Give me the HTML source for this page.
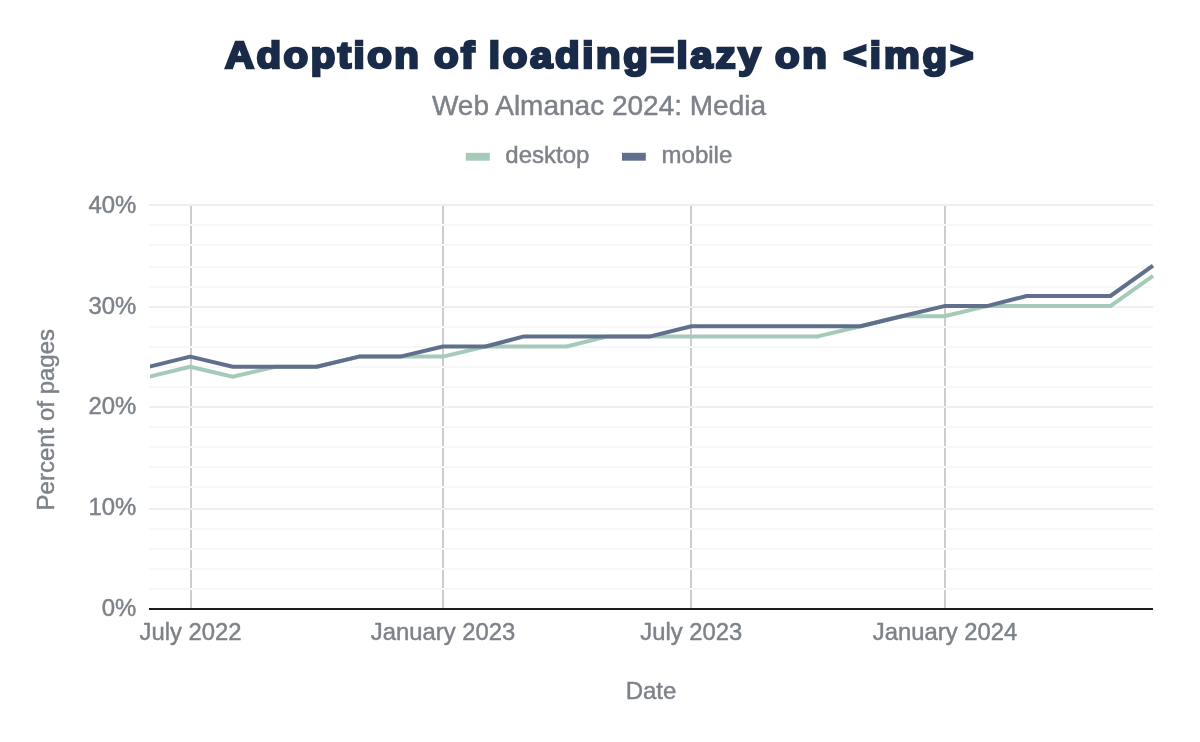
<!DOCTYPE html>
<html lang="en">
<head>
<meta charset="utf-8">
<title>Adoption of loading=lazy on &lt;img&gt;</title>
<style>
html,body{margin:0;padding:0;background:#fff;}
body{width:1200px;height:742px;overflow:hidden;}
svg{display:block;}
.lbl{font-family:"Liberation Sans",Arial,Helvetica,sans-serif;font-size:24px;fill:#7d8289;stroke:#7d8289;stroke-width:0.45px;}
.sub{font-family:"Liberation Sans",Arial,Helvetica,sans-serif;font-size:28px;fill:#7d8289;stroke:#7d8289;stroke-width:0.45px;}
.ttl{font-family:"Liberation Sans",Arial,Helvetica,sans-serif;font-weight:bold;font-size:37px;fill:#1a2b49;stroke:#1a2b49;stroke-width:2.6px;stroke-linejoin:miter;}
</style>
</head>
<body>
<svg width="1200" height="742" viewBox="0 0 1200 742">
<rect x="0" y="0" width="1200" height="742" fill="#ffffff"/>

<g stroke="#cccccc" stroke-width="2">
<line x1="191" y1="205" x2="191" y2="609"/>
<line x1="443" y1="205" x2="443" y2="609"/>
<line x1="691" y1="205" x2="691" y2="609"/>
<line x1="945" y1="205" x2="945" y2="609"/>
</g>
<g stroke-width="2">
<line x1="149" y1="589" x2="1153" y2="589" stroke="#f7f7f7"/>
<line x1="149" y1="569" x2="1153" y2="569" stroke="#f7f7f7"/>
<line x1="149" y1="549" x2="1153" y2="549" stroke="#f7f7f7"/>
<line x1="149" y1="529" x2="1153" y2="529" stroke="#f7f7f7"/>
<line x1="149" y1="509" x2="1153" y2="509" stroke="#efefef"/>
<line x1="149" y1="487" x2="1153" y2="487" stroke="#f7f7f7"/>
<line x1="149" y1="467" x2="1153" y2="467" stroke="#f7f7f7"/>
<line x1="149" y1="447" x2="1153" y2="447" stroke="#f7f7f7"/>
<line x1="149" y1="427" x2="1153" y2="427" stroke="#f7f7f7"/>
<line x1="149" y1="407" x2="1153" y2="407" stroke="#efefef"/>
<line x1="149" y1="387" x2="1153" y2="387" stroke="#f7f7f7"/>
<line x1="149" y1="367" x2="1153" y2="367" stroke="#f7f7f7"/>
<line x1="149" y1="347" x2="1153" y2="347" stroke="#f7f7f7"/>
<line x1="149" y1="327" x2="1153" y2="327" stroke="#f7f7f7"/>
<line x1="149" y1="307" x2="1153" y2="307" stroke="#efefef"/>
<line x1="149" y1="287" x2="1153" y2="287" stroke="#f7f7f7"/>
<line x1="149" y1="267" x2="1153" y2="267" stroke="#f7f7f7"/>
<line x1="149" y1="245" x2="1153" y2="245" stroke="#f7f7f7"/>
<line x1="149" y1="225" x2="1153" y2="225" stroke="#f7f7f7"/>
<line x1="149" y1="205" x2="1153" y2="205" stroke="#efefef"/>
</g>
<line x1="149" y1="609" x2="1153" y2="609" stroke="#1c1c1c" stroke-width="2"/>
<clipPath id="plotclip"><rect x="150" y="190" width="1020" height="430"/></clipPath>
<g clip-path="url(#plotclip)">
<path d="M149.0 376.8 L190.2 366.7 L232.8 376.8 L275.4 366.7 L316.6 366.7 L359.1 356.6 L400.3 356.6 L442.9 356.6 L485.5 346.5 L524.0 346.5 L566.5 346.5 L607.7 336.4 L650.3 336.4 L691.5 336.4 L734.1 336.4 L776.7 336.4 L817.9 336.4 L860.5 326.3 L901.7 316.2 L944.2 316.2 L986.8 306.1 L1026.6 306.1 L1069.2 306.1 L1110.4 306.1 L1153.0 275.8" fill="none" stroke="#a5cab9" stroke-width="4" stroke-linejoin="round"/>
<path d="M149.0 366.7 L190.2 356.6 L232.8 366.7 L275.4 366.7 L316.6 366.7 L359.1 356.6 L400.3 356.6 L442.9 346.5 L485.5 346.5 L524.0 336.4 L566.5 336.4 L607.7 336.4 L650.3 336.4 L691.5 326.3 L734.1 326.3 L776.7 326.3 L817.9 326.3 L860.5 326.3 L901.7 316.2 L944.2 306.1 L986.8 306.1 L1026.6 296.0 L1069.2 296.0 L1110.4 296.0 L1153.0 265.7" fill="none" stroke="#60708c" stroke-width="4" stroke-linejoin="round"/>
</g>
<g transform="translate(225 67.9) scale(1.0868 1)"><text class="ttl" x="0" y="0" letter-spacing="2.3" xml:space="preserve">Adoption<tspan dx="-0.9"> of</tspan><tspan dx="-1.8" letter-spacing="2.45"> loading=lazy</tspan><tspan dx="-1.6"> on</tspan><tspan letter-spacing="2.72"> &lt;img&gt;</tspan></text></g>
<text class="sub" x="599" y="114.5" text-anchor="middle">Web Almanac 2024: Media</text>
<rect x="465.75" y="152.8" width="24" height="7.9" fill="#a5cab9"/>
<text class="lbl" x="505.3" y="163">desktop</text>
<rect x="622" y="152.8" width="23.8" height="7.9" fill="#60708c"/>
<text class="lbl" x="661.6" y="163">mobile</text>
<text class="lbl" transform="translate(136.3 212.9) scale(0.997 1.02)" text-anchor="end">40%</text>
<text class="lbl" transform="translate(136.3 314.1) scale(0.997 1.02)" text-anchor="end">30%</text>
<text class="lbl" transform="translate(136.3 414.1) scale(0.997 1.02)" text-anchor="end">20%</text>
<text class="lbl" transform="translate(136.3 514.9) scale(0.997 1.02)" text-anchor="end">10%</text>
<text class="lbl" transform="translate(136.3 615.9) scale(0.997 1.02)" text-anchor="end">0%</text>
<text class="lbl" transform="translate(190.5 639.7) scale(0.993 1.03)" text-anchor="middle">July 2022</text>
<text class="lbl" transform="translate(443.0 639.7) scale(0.993 1.03)" text-anchor="middle">January 2023</text>
<text class="lbl" transform="translate(691.3 639.7) scale(0.993 1.03)" text-anchor="middle">July 2023</text>
<text class="lbl" transform="translate(945.0 639.7) scale(0.993 1.03)" text-anchor="middle">January 2024</text>
<text class="lbl" x="651" y="699.3" text-anchor="middle">Date</text>
<text class="lbl" transform="translate(54.2 419.7) rotate(-90)" text-anchor="middle">Percent of pages</text>
</svg>
</body>
</html>
